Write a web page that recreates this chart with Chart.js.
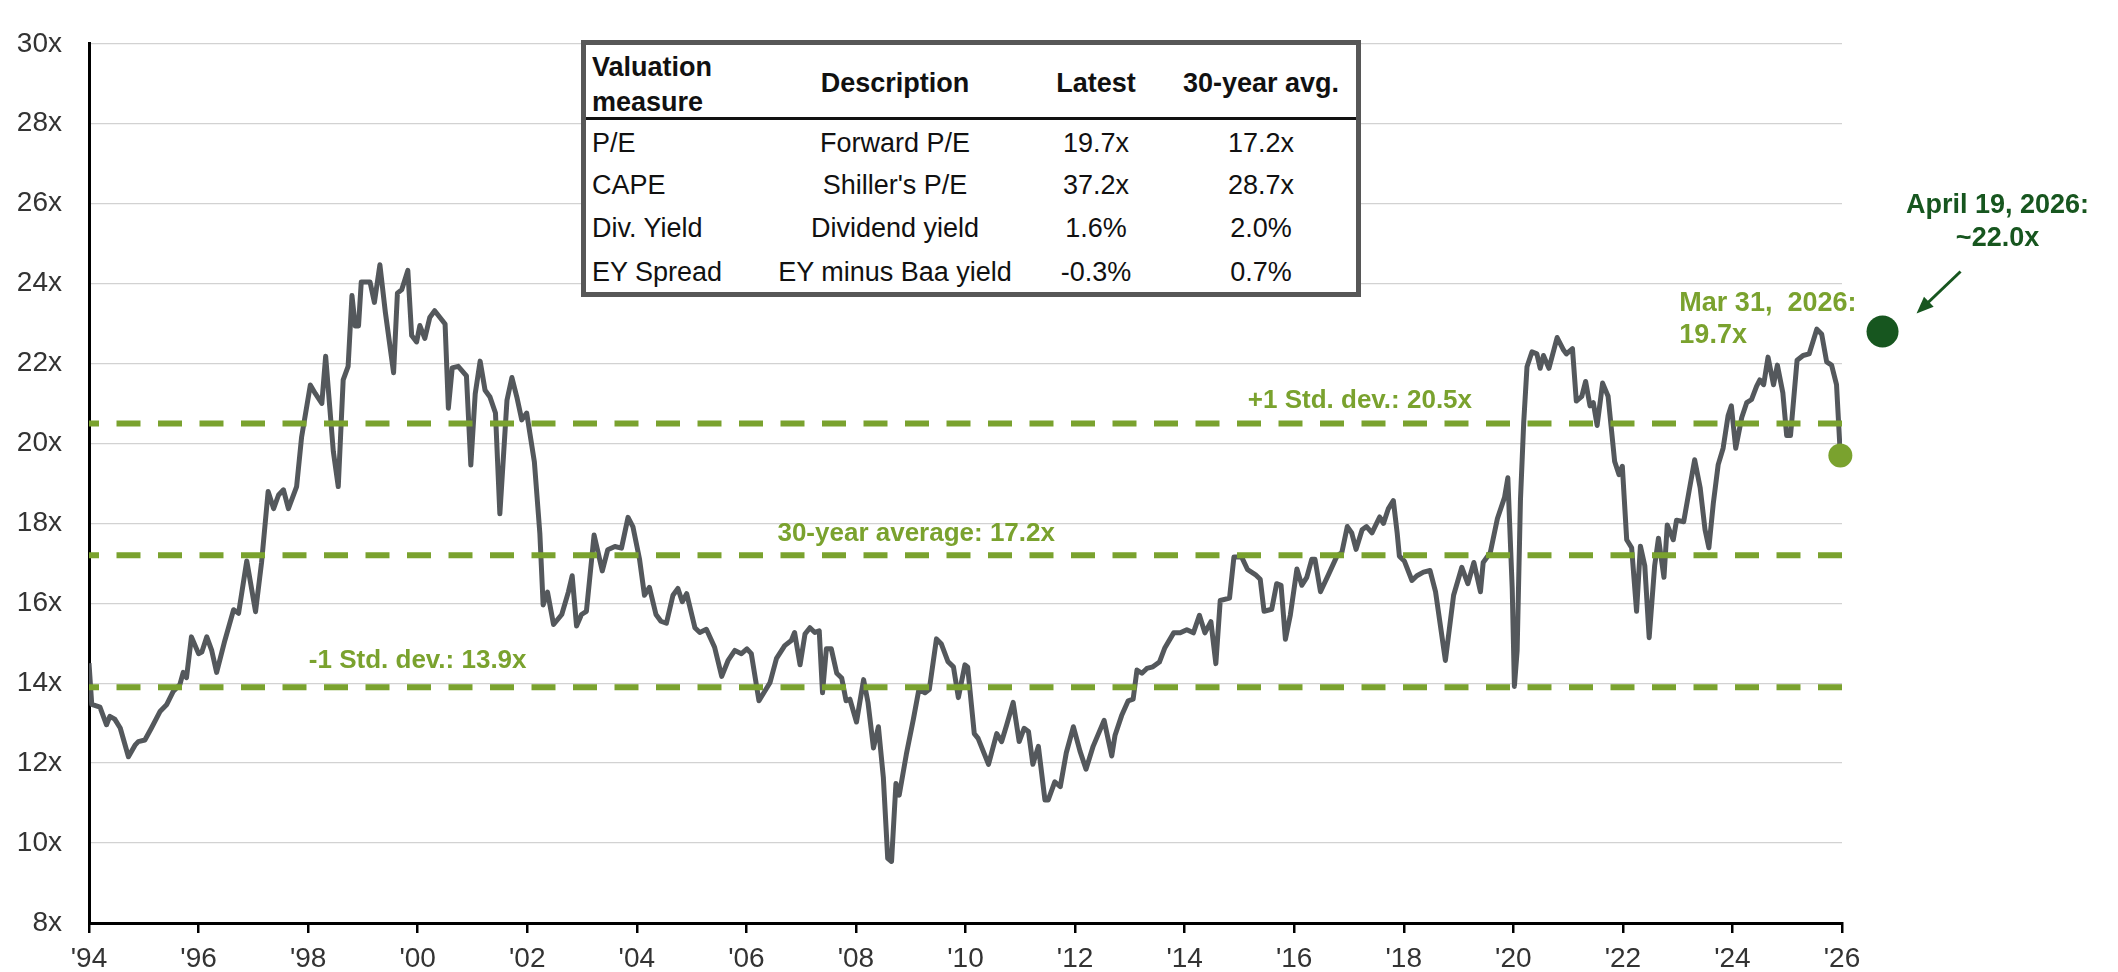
<!DOCTYPE html>
<html>
<head>
<meta charset="utf-8">
<title>S&amp;P 500 forward P/E</title>
<script src="https://cdn.jsdelivr.net/npm/chart.js@4.4.1/dist/chart.umd.min.js"></script>
<style>
  html, body { margin: 0; padding: 0; background: #fff; }
  #wrap { position: relative; width: 2118px; height: 972px; font-family: "Liberation Sans", Arial, sans-serif; }
  #chart { position: absolute; left: 0; top: 0; }
  #valTable { position: absolute; left: 581px; top: 40px; width: 780px; height: 257px; box-sizing: border-box;
              border: 5px solid #575757; background: #fff; color: #111; font-size: 27px; }
  #valTable .cell { position: absolute; white-space: nowrap; line-height: 1; transform: translate(-50%, -50%); }
  #valTable .left { transform: translate(0, -50%); }
  #valTable .head { font-weight: bold; }
  #valTable .rule { position: absolute; left: 0; right: 0; top: 72px; height: 3px; background: #111; }
</style>
</head>
<body>
<div id="wrap">
  <canvas id="chart" width="2118" height="972"></canvas>
  <div id="valTable"></div>
</div>
<script>
// forward P/E (decimal year -> multiple)
const peYears = [
  1994.00, 1994.05, 1994.20, 1994.32, 1994.38, 1994.47, 1994.57, 1994.72, 1994.84, 1994.90,
  1995.02, 1995.14, 1995.30, 1995.42, 1995.54, 1995.66, 1995.72, 1995.78, 1995.87,
  1996.00, 1996.06, 1996.15, 1996.24, 1996.33, 1996.48, 1996.64, 1996.73, 1996.88,
  1997.04, 1997.15, 1997.27, 1997.37, 1997.46, 1997.55, 1997.64, 1997.79, 1997.88,
  1998.04, 1998.13, 1998.25, 1998.32, 1998.46, 1998.55, 1998.64, 1998.73, 1998.80, 1998.86, 1998.92, 1998.97,
  1999.13, 1999.21, 1999.31, 1999.41, 1999.56, 1999.63, 1999.71, 1999.82, 1999.89, 1999.98,
  2000.04, 2000.13, 2000.22, 2000.31, 2000.50, 2000.56, 2000.63, 2000.74, 2000.89, 2000.97,
  2001.05, 2001.14, 2001.23, 2001.32, 2001.42, 2001.50, 2001.63, 2001.72, 2001.81, 2001.90, 2001.99,
  2002.13, 2002.23, 2002.29, 2002.37, 2002.48, 2002.63, 2002.75, 2002.82, 2002.90, 2002.99,
  2003.08, 2003.22, 2003.37, 2003.47, 2003.60, 2003.72, 2003.84, 2003.93,
  2004.05, 2004.14, 2004.23, 2004.35, 2004.44, 2004.54, 2004.66, 2004.75, 2004.83, 2004.91,
  2005.06, 2005.15, 2005.27, 2005.42, 2005.55, 2005.67, 2005.79, 2005.91,
  2006.01, 2006.09, 2006.23, 2006.43, 2006.55, 2006.70, 2006.82, 2006.88, 2006.98,
  2007.07, 2007.16, 2007.25, 2007.33, 2007.39, 2007.46, 2007.55, 2007.65, 2007.74, 2007.82, 2007.89,
  2008.01, 2008.14, 2008.22, 2008.32, 2008.41, 2008.50, 2008.58, 2008.65, 2008.73, 2008.79, 2008.92,
  2009.05, 2009.15, 2009.26, 2009.34, 2009.47, 2009.56, 2009.68, 2009.78, 2009.87, 2009.99,
  2010.04, 2010.11, 2010.16, 2010.23, 2010.42, 2010.57, 2010.66, 2010.75, 2010.87, 2010.98,
  2011.07, 2011.15, 2011.23, 2011.33, 2011.45, 2011.51, 2011.63, 2011.73, 2011.84, 2011.97,
  2012.09, 2012.20, 2012.33, 2012.53, 2012.67, 2012.73, 2012.85, 2012.97,
  2013.06, 2013.13, 2013.22, 2013.31, 2013.42, 2013.54, 2013.64, 2013.80, 2013.92,
  2014.04, 2014.16, 2014.27, 2014.37, 2014.48, 2014.57, 2014.65, 2014.82, 2014.90,
  2015.04, 2015.15, 2015.29, 2015.38, 2015.45, 2015.59, 2015.68, 2015.76, 2015.84, 2015.93,
  2016.05, 2016.14, 2016.23, 2016.32, 2016.38, 2016.48, 2016.63, 2016.78, 2016.87, 2016.97,
  2017.05, 2017.13, 2017.24, 2017.32, 2017.42, 2017.56, 2017.63, 2017.72, 2017.81, 2017.88, 2017.92,
  2018.01, 2018.15, 2018.24, 2018.36, 2018.48, 2018.58, 2018.76, 2018.91,
  2019.06, 2019.17, 2019.28, 2019.40, 2019.45, 2019.58, 2019.71, 2019.84, 2019.90, 2019.98,
  2020.02, 2020.07, 2020.13, 2020.19, 2020.25, 2020.34, 2020.43, 2020.49, 2020.55, 2020.65, 2020.80, 2020.92, 2020.97,
  2021.08, 2021.15, 2021.25, 2021.32, 2021.40, 2021.46, 2021.53, 2021.63, 2021.73, 2021.85, 2021.93, 2021.99,
  2022.07, 2022.16, 2022.25, 2022.32, 2022.40, 2022.48, 2022.58, 2022.65, 2022.75, 2022.81, 2022.92, 2022.98,
  2023.11, 2023.21, 2023.31, 2023.41, 2023.50, 2023.57, 2023.65, 2023.74, 2023.83, 2023.92, 2023.98,
  2024.06, 2024.17, 2024.26, 2024.35, 2024.44, 2024.50, 2024.57, 2024.65, 2024.75, 2024.82, 2024.92, 2024.99,
  2025.06, 2025.18, 2025.29, 2025.40, 2025.54, 2025.63, 2025.72, 2025.81, 2025.90, 2025.97
];
const peValues = [
  14.50, 13.47, 13.40, 12.96, 13.17, 13.10, 12.88, 12.16, 12.45, 12.54,
  12.58, 12.88, 13.30, 13.47, 13.80, 13.97, 14.27, 14.14, 15.16,
  14.74, 14.78, 15.16, 14.82, 14.27, 15.07, 15.84, 15.75, 17.06,
  15.79, 17.02, 18.80, 18.37, 18.71, 18.84, 18.37, 18.92, 20.15,
  21.46, 21.25, 21.00, 22.18, 19.80, 18.92, 21.59, 21.93, 23.70, 22.94, 22.94, 24.04,
  24.04, 23.53, 24.47, 23.28, 21.77, 23.76, 23.85, 24.33, 22.70, 22.54,
  22.95, 22.63, 23.15, 23.32, 22.99, 20.88, 21.89, 21.93, 21.69, 19.46,
  21.24, 22.06, 21.33, 21.16, 20.76, 18.24, 21.08, 21.65, 21.16, 20.59, 20.76,
  19.54, 17.75, 15.96, 16.28, 15.47, 15.72, 16.28, 16.69, 15.43, 15.72,
  15.80, 17.71, 16.81, 17.34, 17.42, 17.38, 18.15, 17.91,
  17.10, 16.20, 16.40, 15.72, 15.55, 15.50, 16.20, 16.37, 16.04, 16.24,
  15.39, 15.27, 15.35, 14.90, 14.17, 14.58, 14.82, 14.74,
  14.86, 14.74, 13.56, 14.01, 14.62, 14.94, 15.07, 15.27, 14.46,
  15.23, 15.39, 15.27, 15.31, 13.76, 14.86, 14.86, 14.25, 14.13, 13.56, 13.60,
  13.03, 14.09, 13.52, 12.38, 12.91, 11.65, 9.62, 9.54, 11.49, 11.20, 12.22,
  13.11, 13.85, 13.76, 13.85, 15.11, 14.98, 14.54, 14.41, 13.64, 14.46,
  14.40, 13.43, 12.74, 12.62, 11.97, 12.74, 12.54, 12.95, 13.52, 12.54,
  12.87, 12.79, 11.97, 12.42, 11.08, 11.08, 11.53, 11.41, 12.26, 12.91,
  12.30, 11.85, 12.42, 13.07, 12.18, 12.70, 13.19, 13.56,
  13.60, 14.33, 14.25, 14.37, 14.41, 14.53, 14.89, 15.26, 15.26,
  15.34, 15.26, 15.70, 15.26, 15.54, 14.49, 16.07, 16.13, 17.16,
  17.16, 16.84, 16.72, 16.60, 15.80, 15.85, 16.49, 16.45, 15.10, 15.71,
  16.86, 16.45, 16.65, 17.10, 17.10, 16.29, 16.73, 17.18, 17.27, 17.92,
  17.76, 17.35, 17.84, 17.92, 17.76, 18.16, 18.00, 18.37, 18.57, 17.76, 17.18,
  17.06, 16.57, 16.69, 16.78, 16.82, 16.29, 14.57, 16.20,
  16.90, 16.49, 17.02, 16.29, 17.02, 17.27, 18.12, 18.65, 19.14, 16.37,
  13.92, 14.82, 18.57, 20.53, 21.92, 22.29, 22.24, 21.88, 22.20, 21.88, 22.65, 22.33, 22.24,
  22.37, 21.06, 21.18, 21.55, 20.94, 21.02, 20.45, 21.51, 21.18, 19.55, 19.22, 19.43,
  17.59, 17.39, 15.80, 17.43, 16.94, 15.14, 16.94, 17.63, 16.65, 17.96, 17.59, 18.08,
  18.04, 18.82, 19.59, 18.90, 17.84, 17.39, 18.49, 19.47, 19.88, 20.69, 20.94,
  19.88, 20.65, 21.02, 21.10, 21.43, 21.59, 21.47, 22.16, 21.47, 21.96, 21.27, 20.20,
  20.20, 22.08, 22.20, 22.24, 22.86, 22.73, 22.04, 21.96, 21.47, 19.70
];

const bandValues = [20.5, 17.2, 13.9];
const bandLabels = ['+1 Std. dev.: 20.5x', '30-year average: 17.2x', '-1 Std. dev.: 13.9x'];

const latestLabel = ['Mar 31,  2026:', '19.7x'];
const estimateYear = 2026.74;
const estimatePlotValue = 22.8;
const estimateLabel = ['April 19, 2026:', '~22.0x'];

const xTickYears = [1994, 1996, 1998, 2000, 2002, 2004, 2006, 2008, 2010, 2012, 2014, 2016, 2018, 2020, 2022, 2024, 2026];
const yTickValues = [8, 10, 12, 14, 16, 18, 20, 22, 24, 26, 28, 30];

const tableHeader = ['Valuation\nmeasure', 'Description', 'Latest', '30-year avg.'];
const tableMeasure = ['P/E', 'CAPE', 'Div. Yield', 'EY Spread'];
const tableDescription = ['Forward P/E', "Shiller's P/E", 'Dividend yield', 'EY minus Baa yield'];
const tableLatest = ['19.7x', '37.2x', '1.6%', '-0.3%'];
const tableAverage = ['17.2x', '28.7x', '2.0%', '0.7%'];

const GREEN = '#7aa22e';
const DARK_GREEN = '#17561f';
const LINE_GRAY = '#54585c';
const FONT = '"Liberation Sans", Arial, sans-serif';

// valuation table (html overlay)
function buildTable() {
  const box = document.getElementById('valTable');
  const colX = [6, 309, 510, 675];
  const headY = 38;
  const rowY = [98, 140, 183, 227];
  let html = '<div class="rule"></div>';
  const headLines = tableHeader[0].split('\n');
  html += `<div class="cell left head" style="left:${colX[0]}px;top:22px">${headLines[0]}</div>`;
  html += `<div class="cell left head" style="left:${colX[0]}px;top:57px">${headLines[1]}</div>`;
  for (let c = 1; c < 4; c++) {
    html += `<div class="cell head" style="left:${colX[c]}px;top:${headY}px">${tableHeader[c]}</div>`;
  }
  const cols = [tableMeasure, tableDescription, tableLatest, tableAverage];
  for (let r = 0; r < tableMeasure.length; r++) {
    cols.forEach((col, c) => {
      const cls = c === 0 ? 'cell left' : 'cell';
      html += `<div class="${cls}" style="left:${colX[c]}px;top:${rowY[r]}px">${col[r]}</div>`;
    });
  }
  box.innerHTML = html;
}
buildTable();

// labels for the dashed bands and the two call-outs
const peNotes = {
  id: 'peNotes',
  afterDatasetsDraw(chart, args, opts) {
    const { ctx } = chart;
    const x = chart.scales.x, y = chart.scales.y;
    ctx.save();
    ctx.textBaseline = 'middle';

    ctx.font = 'bold 26px ' + FONT;
    ctx.fillStyle = GREEN;
    ctx.textAlign = 'center';
    bandLabels.forEach((txt, i) => {
      ctx.fillText(txt, x.getPixelForValue(opts.bandLabelYears[i]), y.getPixelForValue(bandValues[i]) - opts.bandLift[i]);
    });

    const last = peYears.length - 1;
    const lx = x.getPixelForValue(peYears[last]);
    const ly = y.getPixelForValue(peValues[last]);
    ctx.font = 'bold 27px ' + FONT;
    ctx.textAlign = 'left';
    ctx.fillText(latestLabel[0], lx - 161, ly - 152);
    ctx.fillText(latestLabel[1], lx - 161, ly - 120);

    // estimate dot lies right of the last tick, point elements there get culled,
    // so place it with the scales here
    const ex = x.getPixelForValue(estimateYear);
    const ey = y.getPixelForValue(estimatePlotValue);
    ctx.fillStyle = DARK_GREEN;
    ctx.beginPath();
    ctx.arc(ex, ey, 16, 0, Math.PI * 2);
    ctx.fill();

    ctx.textAlign = 'center';
    ctx.fillText(estimateLabel[0], ex + 115, ey - 126);
    ctx.fillText(estimateLabel[1], ex + 115, ey - 93);

    // arrow pointing at the estimate dot
    const x1 = ex + 78, y1 = ey - 60, x2 = ex + 34, y2 = ey - 18;
    const ang = Math.atan2(y2 - y1, x2 - x1);
    ctx.strokeStyle = DARK_GREEN;
    ctx.lineWidth = 3;
    ctx.beginPath();
    ctx.moveTo(x1, y1);
    ctx.lineTo(x2 - 12 * Math.cos(ang), y2 - 12 * Math.sin(ang));
    ctx.stroke();
    ctx.beginPath();
    ctx.moveTo(x2, y2);
    ctx.lineTo(x2 - 17 * Math.cos(ang) + 7 * Math.sin(ang), y2 - 17 * Math.sin(ang) - 7 * Math.cos(ang));
    ctx.lineTo(x2 - 17 * Math.cos(ang) - 7 * Math.sin(ang), y2 - 17 * Math.sin(ang) + 7 * Math.cos(ang));
    ctx.closePath();
    ctx.fill();
    ctx.restore();
  }
};

const peData = peYears.map((yr, i) => ({ x: yr, y: peValues[i] }));
const bandSets = bandValues.map(v => ({
  data: [{ x: xTickYears[0], y: v }, { x: xTickYears[xTickYears.length - 1], y: v }],
  borderColor: GREEN,
  borderWidth: 6,
  borderDash: [24, 17.5],
  borderDashOffset: 14,
  borderCapStyle: 'butt',
  pointRadius: 0,
  order: 2
}));

const last = peYears.length - 1;

new Chart(document.getElementById('chart'), {
  type: 'line',
  data: {
    datasets: [
      {
        data: peData,
        borderColor: LINE_GRAY,
        borderWidth: 5,
        borderJoinStyle: 'round',
        pointRadius: 0,
        tension: 0,
        order: 3
      },
      ...bandSets,
      {
        type: 'bubble',
        data: [{ x: peYears[last], y: peValues[last], r: 12 }],
        backgroundColor: GREEN,
        borderWidth: 0,
        clip: false,
        order: 1
      }
    ]
  },
  options: {
    responsive: false,
    animation: false,
    devicePixelRatio: 1,
    layout: { padding: { left: 0, top: 21, right: 276, bottom: 0 } },
    plugins: {
      legend: { display: false },
      tooltip: { enabled: false },
      peNotes: { bandLabelYears: [2017.2, 2009.1, 2000.0], bandLift: [23, 22, 26] }
    },
    scales: {
      x: {
        type: 'linear',
        min: 1994,
        max: 2026,
        afterBuildTicks: s => { s.ticks = xTickYears.map(v => ({ value: v })); },
        afterFit: s => { s.height = 49; },
        grid: { drawOnChartArea: false, drawTicks: true, tickLength: 10, color: '#000', lineWidth: 2.5 },
        border: { display: true, color: '#000', width: 3 },
        ticks: {
          autoSkip: false,
          maxRotation: 0,
          padding: 9,
          color: '#333',
          font: { family: FONT, size: 28 },
          callback: v => "'" + String(v % 100).padStart(2, '0')
        }
      },
      y: {
        min: 8,
        max: 30,
        afterBuildTicks: s => { s.ticks = yTickValues.map(v => ({ value: v })); },
        afterFit: s => { s.width = 89; },
        grid: { color: '#d2d2d2', lineWidth: 1.3, drawTicks: false },
        border: { display: true, color: '#000', width: 3 },
        ticks: {
          padding: 27,
          color: '#333',
          font: { family: FONT, size: 28 },
          callback: v => v + 'x'
        }
      }
    }
  },
  plugins: [peNotes]
});
</script>
</body>
</html>
